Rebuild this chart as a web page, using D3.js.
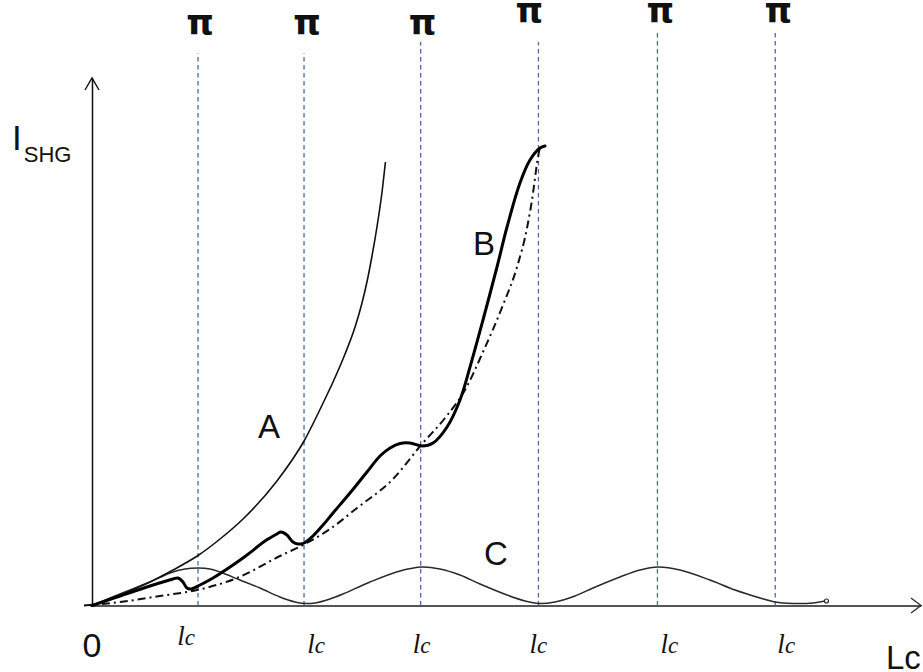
<!DOCTYPE html>
<html>
<head>
<meta charset="utf-8">
<script src="https://cdn.jsdelivr.net/npm/d3@7"></script>
<style>
  html, body { margin: 0; padding: 0; background: #fff; }
  svg { display: block; }
</style>
</head>
<body>
<svg id="chart" width="923" height="672"></svg>
<script>
// Positions of the coherence-length markers along Lc
const lcMarks = [0.90, 1.80, 2.79, 3.79, 4.80, 5.80];
// Height reached by each marker line (I_SHG units)
const markTops = [11.05, 11.05, 11.27, 11.27, 11.51, 11.51];
const markLabel = "π";
const lcLabel = ["l", "c"];

// A: perfectly phase-matched growth
const curveA = [
  [0, 0], [0.238, 0.21], [0.492, 0.47], [0.688, 0.71], [0.900, 1.00],
  [1.087, 1.33], [1.282, 1.73], [1.570, 2.49], [1.800, 3.29], [1.970, 4.09],
  [2.046, 4.47], [2.148, 5.03], [2.233, 5.57], [2.292, 6.05], [2.334, 6.47],
  [2.377, 6.99], [2.419, 7.57], [2.462, 8.27], [2.491, 8.87]
];

// B: quasi-phase-matched growth with steps at each coherence length
const curveB = [
  [0, 0], [0.238, 0.19], [0.492, 0.39], [0.688, 0.53], [0.730, 0.55],
  [0.772, 0.47], [0.806, 0.35], [0.840, 0.33], [0.917, 0.41], [1.027, 0.55],
  [1.197, 0.81], [1.316, 1.01], [1.469, 1.29], [1.570, 1.43], [1.604, 1.47],
  [1.655, 1.41], [1.706, 1.27], [1.749, 1.23], [1.800, 1.25], [1.876, 1.39],
  [1.961, 1.61], [2.046, 1.85], [2.190, 2.25], [2.334, 2.67], [2.445, 2.99],
  [2.530, 3.15], [2.615, 3.24], [2.699, 3.25], [2.801, 3.19], [2.895, 3.25],
  [3.014, 3.57], [3.124, 4.11], [3.209, 4.77], [3.319, 5.71], [3.438, 6.77],
  [3.523, 7.57], [3.633, 8.45], [3.718, 8.91], [3.803, 9.15], [3.846, 9.19]
];

// Envelope of B (dash-dot)
const envelopeB = [
  [-0.068, 0], [0.238, 0.07], [0.577, 0.19], [0.891, 0.31], [1.231, 0.55],
  [1.596, 0.99], [1.791, 1.21], [2.020, 1.53], [2.250, 1.95], [2.555, 2.53],
  [2.801, 3.23], [2.997, 3.75], [3.166, 4.31], [3.319, 5.07], [3.489, 6.01],
  [3.608, 6.77], [3.693, 7.55], [3.744, 8.25], [3.778, 8.85], [3.803, 9.17]
];

// C: non-phase-matched oscillation
const curveC = [
  [0, 0], [0.153, 0.15], [0.323, 0.31], [0.492, 0.47], [0.662, 0.65],
  [0.789, 0.73], [0.900, 0.75], [1.002, 0.73], [1.087, 0.67], [1.256, 0.51],
  [1.426, 0.35], [1.596, 0.17], [1.723, 0.07], [1.800, 0.04], [1.893, 0.05],
  [2.020, 0.13], [2.131, 0.23], [2.360, 0.47], [2.615, 0.69], [2.801, 0.77],
  [2.954, 0.73], [3.124, 0.61], [3.294, 0.43], [3.523, 0.21], [3.676, 0.09],
  [3.795, 0.04], [3.930, 0.07], [4.100, 0.19], [4.253, 0.35], [4.482, 0.57],
  [4.652, 0.71], [4.805, 0.77], [4.992, 0.71], [5.246, 0.51], [5.459, 0.31],
  [5.671, 0.15], [5.798, 0.07], [5.951, 0.04], [6.121, 0.05], [6.222, 0.09]
];

const svg = d3.select("#chart");

const x = d3.scaleLinear().domain([0, 7]).range([92, 916.6]);
const y = d3.scaleLinear().domain([0, 12]).range([605.5, 5.5]);

const sans = "'Liberation Sans', Arial, sans-serif";
const serif = "'Liberation Serif', 'Times New Roman', serif";

// Dashed coherence-length markers
svg.append("g")
  .selectAll("line")
  .data(lcMarks)
  .join("line")
  .attr("x1", d => x(d)).attr("x2", d => x(d))
  .attr("y1", y(0))
  .attr("y2", (d, i) => y(markTops[i]))
  .attr("stroke", "#4a6e9e")
  .attr("stroke-width", 1.3)
  .attr("stroke-dasharray", "4.5,3.5");

// X axis (no ticks) with arrow head
const xAxisScale = x.copy().domain([x.invert(90), x.invert(921)]).range([90, 921]);
const xEnd = 921;
svg.append("g")
  .attr("transform", `translate(0,${y(0)})`)
  .call(d3.axisBottom(xAxisScale).tickValues([]).tickSizeOuter(0))
  .select(".domain").attr("stroke", "#555").attr("stroke-width", 2);
svg.append("path")
  .attr("d", `M${xEnd - 10},${y(0) - 7.5} L${xEnd},${y(0)} L${xEnd - 10},${y(0) + 7.5}`)
  .attr("fill", "none").attr("stroke", "#333").attr("stroke-width", 1.4);

// Y axis (no ticks) with arrow head
const yAxisScale = y.copy().domain([y.invert(606.5), y.invert(78)]).range([606.5, 78]);
svg.append("g")
  .attr("transform", `translate(${x(0)},0)`)
  .call(d3.axisLeft(yAxisScale).tickValues([]).tickSizeOuter(0))
  .select(".domain").attr("stroke", "#111").attr("stroke-width", 1.5);
svg.append("path")
  .attr("d", `M${x(0) - 7},90 L${x(0)},78 L${x(0) + 7},90`)
  .attr("fill", "none").attr("stroke", "#111").attr("stroke-width", 1.4);

// Curves
const smoothLine = d3.line()
  .x(d => x(d[0]))
  .y(d => y(d[1]))
  .curve(d3.curveCatmullRom.alpha(0.5));
const monoLine = d3.line()
  .x(d => x(d[0]))
  .y(d => y(d[1]))
  .curve(d3.curveMonotoneX);

svg.append("path").datum(curveC).attr("d", smoothLine)
  .attr("fill", "none").attr("stroke", "#2a2a2a").attr("stroke-width", 1.5);
const cEnd = curveC[curveC.length - 1];
svg.append("circle")
  .attr("cx", x(cEnd[0]) + 1.5).attr("cy", y(cEnd[1]))
  .attr("r", 2).attr("fill", "#fff").attr("stroke", "#2a2a2a").attr("stroke-width", 1.2);

svg.append("path").datum(envelopeB).attr("d", monoLine)
  .attr("fill", "none").attr("stroke", "#111").attr("stroke-width", 2)
  .attr("stroke-dasharray", "8,4,2,4");

svg.append("path").datum(curveA).attr("d", monoLine)
  .attr("fill", "none").attr("stroke", "#111").attr("stroke-width", 1.6);

svg.append("path").datum(curveB).attr("d", smoothLine)
  .attr("fill", "none").attr("stroke", "#000").attr("stroke-width", 3)
  .attr("stroke-linecap", "round");

// π labels above the markers
const piShift = [2, 3, 2, -9, 3, 3];
const piBase = [35, 35, 35, 23, 23, 23];
svg.append("g")
  .selectAll("text")
  .data(lcMarks)
  .join("text")
  .attr("x", (d, i) => x(d) + piShift[i])
  .attr("y", (d, i) => piBase[i])
  .attr("text-anchor", "middle")
  .attr("font-family", "'DejaVu Sans', sans-serif")
  .attr("font-weight", "bold")
  .attr("font-size", 35)
  .attr("fill", "#111")
  .text(markLabel);

// l_c labels below the axis
const lcShift = [-12, 12, 1, 0, 12, 11];
const lcBase = [645, 653, 653, 653, 653, 653];
const lcText = svg.append("g")
  .selectAll("text")
  .data(lcMarks)
  .join("text")
  .attr("x", (d, i) => x(d) + lcShift[i])
  .attr("y", (d, i) => lcBase[i])
  .attr("text-anchor", "middle")
  .attr("font-family", serif)
  .attr("font-style", "italic")
  .attr("fill", "#111");
lcText.append("tspan").attr("font-size", 27).text(lcLabel[0]);
lcText.append("tspan").attr("font-size", 23).text(lcLabel[1]);

// Axis titles
const ylab = svg.append("text")
  .attr("x", 12).attr("y", 150)
  .attr("font-family", sans).attr("fill", "#111");
ylab.append("tspan").attr("font-size", 35).text("I");
ylab.append("tspan").attr("font-size", 22).attr("dy", 12).attr("dx", 2).text("SHG");

svg.append("text")
  .attr("x", x(0)).attr("y", 657)
  .attr("text-anchor", "middle")
  .attr("font-family", sans).attr("font-size", 34).attr("fill", "#111")
  .text("0");

svg.append("text")
  .attr("x", 886).attr("y", 669)
  .attr("font-family", sans).attr("font-size", 33).attr("fill", "#111")
  .text("Lc");

// Curve labels
const curveLabels = [
  { t: "A", x: 258, y: 438 },
  { t: "B", x: 473, y: 255 },
  { t: "C", x: 484, y: 565 }
];
svg.append("g")
  .selectAll("text")
  .data(curveLabels)
  .join("text")
  .attr("x", d => d.x).attr("y", d => d.y)
  .attr("font-family", sans).attr("font-size", 33).attr("fill", "#111")
  .text(d => d.t);
</script>
</body>
</html>
